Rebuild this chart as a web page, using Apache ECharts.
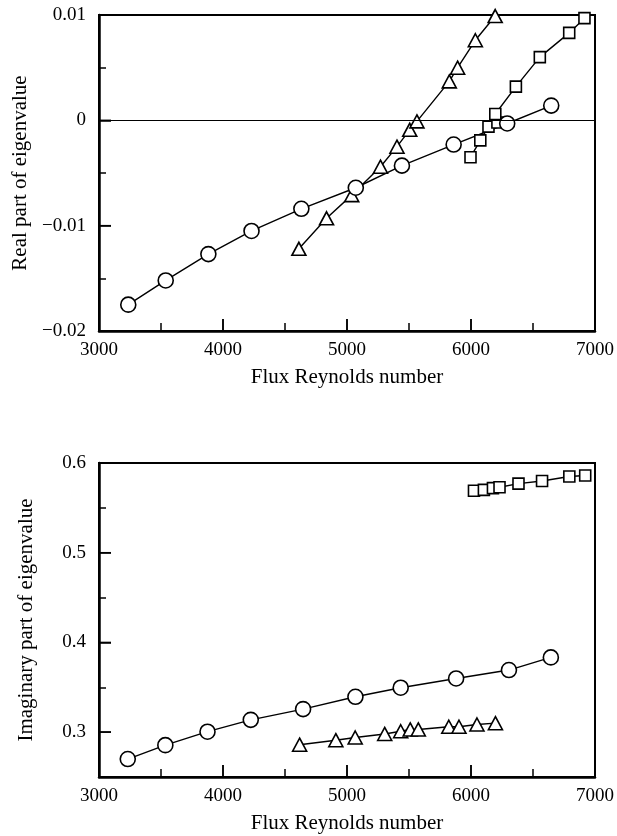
<!DOCTYPE html>
<html>
<head>
<meta charset="utf-8">
<script src="https://cdn.jsdelivr.net/npm/echarts@6/dist/echarts.min.js"></script>
<style>
  html, body { margin: 0; padding: 0; background: #fff; }
  #chart { width: 617px; height: 836px; }
</style>
</head>
<body>
<div id="chart"></div>
<script>
// Reynolds numbers and eigenvalues
const circReX = [3236, 3538, 3882, 4230, 4632, 5071, 5443, 5860, 6292, 6647];
const circRe = [-0.0175, -0.0152, -0.0127, -0.0105, -0.0084, -0.0064, -0.0043, -0.0023, -0.0003, 0.0014];

const triReX = [4612, 4835, 5038, 5270, 5403, 5506, 5564, 5825, 5892, 6035, 6195];
const triRe = [-0.0122, -0.0093, -0.0071, -0.0044, -0.0025, -0.0009, -0.0001, 0.0037, 0.0050, 0.0076, 0.0099];

const sqReX = [5996, 6075, 6141, 6213, 6196, 6362, 6555, 6792, 6915];
const sqRe = [-0.0035, -0.0019, -0.0006, -0.0002, 0.0006, 0.0032, 0.0060, 0.0083, 0.0097];

const circImX = [3232, 3535, 3875, 4224, 4646, 5068, 5433, 5880, 6306, 6644];
const circIm = [0.270, 0.2855, 0.3005, 0.3137, 0.3257, 0.3394, 0.3495, 0.3598, 0.3692, 0.3833];

const triImX = [4618, 4910, 5066, 5304, 5433, 5510, 5575, 5821, 5903, 6048, 6197];
const triIm = [0.286, 0.291, 0.294, 0.298, 0.301, 0.303, 0.303, 0.306, 0.306, 0.3085, 0.310];

const sqImX = [6024, 6104, 6177, 6230, 6383, 6573, 6793, 6921];
const sqIm = [0.569, 0.570, 0.572, 0.573, 0.577, 0.580, 0.585, 0.586];

// tick labels, and the inner tick marks (long and short)
const reTicks = [-0.02, -0.01, 0, 0.01];
const reTickLabels = ['\u22120.02', '\u22120.01', '0', '0.01'];
const reMajorTicks = [-0.01, 0];
const reMinorTicks = [-0.015, -0.005, 0.005];
const imTicks = [0.3, 0.4, 0.5, 0.6];
const imTickLabels = ['0.3', '0.4', '0.5', '0.6'];
const imMajorTicks = [0.3, 0.4, 0.5];
const imMinorTicks = [0.35, 0.45, 0.55];
const reyTicks = [3000, 4000, 5000, 6000, 7000];
const reyTickLabels = ['3000', '4000', '5000', '6000', '7000'];
const reyMajorTicks = [4000, 5000, 6000];
const reyMinorTicks = [3500, 4500, 5500, 6500];

const font = 'Liberation Serif';
const black = '#000';

const pairs = (xs, ys) => xs.map((x, i) => [x, ys[i]]);
const labelOf = (ticks, labels) => v => {
  const i = ticks.findIndex(t => Math.abs(t - v) < 1e-9);
  return i >= 0 ? labels[i] : '';
};

const marker = {
  circle: { symbol: 'circle', symbolSize: 15 },
  tri: { symbol: 'triangle', symbolSize: [14, 13] },
  sq: { symbol: 'rect', symbolSize: 11 }
};

function line(name, kind, data, xi, yi, extra) {
  return Object.assign({
    name: name,
    type: 'line',
    xAxisIndex: xi,
    yAxisIndex: yi,
    data: data,
    symbol: marker[kind].symbol,
    symbolSize: marker[kind].symbolSize,
    showAllSymbol: true,
    clip: false,
    animation: false,
    lineStyle: { color: black, width: 1.4 },
    itemStyle: { color: '#fff', borderColor: black, borderWidth: 1.6 }
  }, extra || {});
}

const tickLine = { color: black, width: 1.5 };

// main axis: line, labels and name (kept on the frame, never moved to zero)
function mainAxis(dim, gi, min, max, ticks, labels, name, gap) {
  return {
    type: 'value',
    gridIndex: gi,
    position: dim === 'x' ? 'bottom' : 'left',
    min: min,
    max: max,
    name: name,
    nameLocation: 'middle',
    nameGap: gap,
    nameTextStyle: { fontFamily: font, fontSize: 21, color: black },
    axisLine: { show: true, onZero: false, lineStyle: { color: black, width: 2.5 } },
    axisTick: { show: false },
    axisLabel: {
      fontFamily: font, fontSize: 19, color: black,
      margin: dim === 'x' ? 10 : 13,
      customValues: ticks,
      formatter: labelOf(ticks, labels)
    },
    splitLine: { show: false }
  };
}

// overlay axis that only draws inward ticks
function tickAxis(dim, gi, min, max, values, len) {
  return {
    type: 'value',
    gridIndex: gi,
    position: dim === 'x' ? 'bottom' : 'left',
    min: min,
    max: max,
    axisLine: { show: false, onZero: false },
    axisTick: { show: true, inside: true, length: len, customValues: values, lineStyle: tickLine },
    axisLabel: { show: false },
    splitLine: { show: false }
  };
}

const chart = echarts.init(document.getElementById('chart'));
chart.setOption({
  backgroundColor: '#fff',
  animation: false,
  grid: [
    { left: 99, top: 15, width: 497, height: 316, show: true, borderColor: black, borderWidth: 2, backgroundColor: 'transparent' },
    { left: 99, top: 463, width: 498, height: 314, show: true, borderColor: black, borderWidth: 2, backgroundColor: 'transparent' }
  ],
  xAxis: [
    mainAxis('x', 0, 3000, 7000, reyTicks, reyTickLabels, 'Flux Reynolds number', 36),
    mainAxis('x', 1, 3000, 7000, reyTicks, reyTickLabels, 'Flux Reynolds number', 36),
    tickAxis('x', 0, 3000, 7000, reyMinorTicks, 8),
    tickAxis('x', 1, 3000, 7000, reyMinorTicks, 8),
    tickAxis('x', 0, 3000, 7000, reyMajorTicks, 12),
    tickAxis('x', 1, 3000, 7000, reyMajorTicks, 12)
  ],
  yAxis: [
    mainAxis('y', 0, -0.02, 0.01, reTicks, reTickLabels, 'Real part of eigenvalue', 62),
    mainAxis('y', 1, 0.25, 0.6, imTicks, imTickLabels, 'Imaginary part of eigenvalue', 62),
    tickAxis('y', 0, -0.02, 0.01, reMinorTicks, 7),
    tickAxis('y', 1, 0.25, 0.6, imMinorTicks, 7),
    tickAxis('y', 0, -0.02, 0.01, reMajorTicks, 12),
    tickAxis('y', 1, 0.25, 0.6, imMajorTicks, 12)
  ],
  series: [
    line('triangles', 'tri', pairs(triReX, triRe), 0, 0, {
      markLine: {
        silent: true,
        symbol: 'none',
        label: { show: false },
        lineStyle: { color: black, width: 1, type: 'solid' },
        data: [{ yAxis: 0 }]
      }
    }),
    line('squares', 'sq', pairs(sqReX, sqRe), 0, 0),
    line('circles', 'circle', pairs(circReX, circRe), 0, 0),
    line('triangles', 'tri', pairs(triImX, triIm), 1, 1),
    line('squares', 'sq', pairs(sqImX, sqIm), 1, 1),
    line('circles', 'circle', pairs(circImX, circIm), 1, 1)
  ]
});

// backup for the long ticks, placed through each grid's own scales
const yMin = [-0.02, 0.25];
const yMajor = [reMajorTicks, imMajorTicks];
const majorLen = 12;
const ticks = [];
[0, 1].forEach(gi => {
  reyMajorTicks.forEach(v => {
    const p = chart.convertToPixel({ gridIndex: gi }, [v, yMin[gi]]);
    if (p && isFinite(p[0]) && isFinite(p[1])) {
      ticks.push({ type: 'line', silent: true, z: 100,
        shape: { x1: p[0], y1: p[1], x2: p[0], y2: p[1] - majorLen }, style: { stroke: black, lineWidth: 1.5 } });
    }
  });
  yMajor[gi].forEach(v => {
    const p = chart.convertToPixel({ gridIndex: gi }, [3000, v]);
    if (p && isFinite(p[0]) && isFinite(p[1])) {
      ticks.push({ type: 'line', silent: true, z: 100,
        shape: { x1: p[0], y1: p[1], x2: p[0] + majorLen, y2: p[1] }, style: { stroke: black, lineWidth: 1.5 } });
    }
  });
});
if (ticks.length) chart.setOption({ graphic: ticks });

window.addEventListener('resize', () => { chart.resize(); });
</script>
</body>
</html>
